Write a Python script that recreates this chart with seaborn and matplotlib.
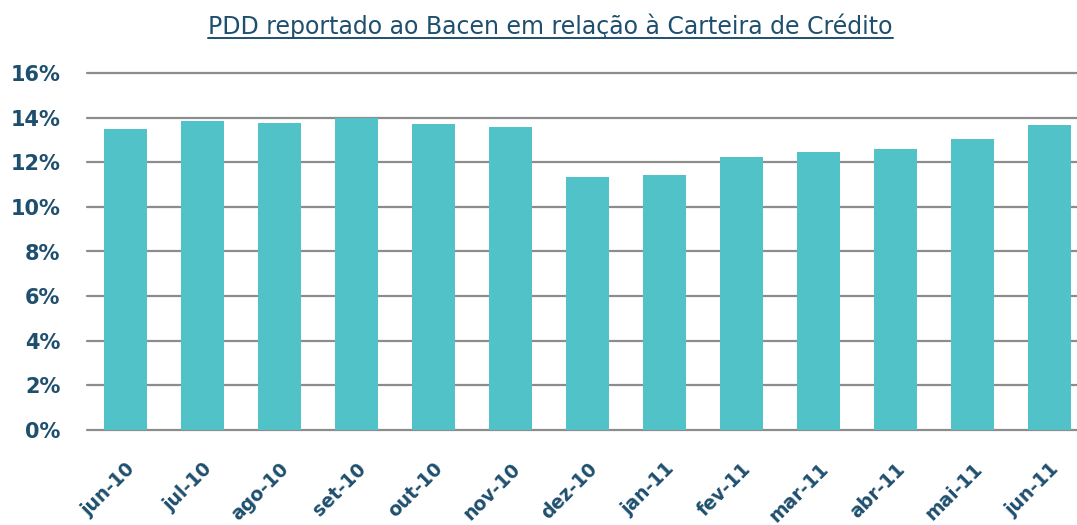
import matplotlib
matplotlib.use("Agg")
import matplotlib.pyplot as plt
from matplotlib.lines import Line2D
from matplotlib.ticker import FuncFormatter, MultipleLocator
import seaborn as sns
import pandas as pd

# data
months = ["jun-10", "jul-10", "ago-10", "set-10", "out-10", "nov-10", "dez-10",
          "jan-11", "fev-11", "mar-11", "abr-11", "mai-11", "jun-11"]
pdd_ratio = [0.1351, 0.1385, 0.1378, 0.1400, 0.1370, 0.1357, 0.1133,
             0.1142, 0.1224, 0.1246, 0.1260, 0.1303, 0.1369]
title = "PDD reportado ao Bacen em relação à Carteira de Crédito"

bar_color = "#50C2C8"
text_color = "#1F4F6E"
grid_color = "#8C8C8C"

sns.set_theme(style="white")
plt.rcParams["font.family"] = ["DejaVu Sans"]

df = pd.DataFrame({"mes": months, "pdd": pdd_ratio})

fig = plt.figure(figsize=(10.77, 5.25), dpi=100)
# axes run past the right edge, the reference is cropped there
ax = fig.add_axes([87 / 1077, 95 / 525, 1001 / 1077, 357 / 525])

sns.barplot(data=df, x="mes", y="pdd", color=bar_color, width=0.56,
            saturation=1, linewidth=0, ax=ax, zorder=3)

ax.set_ylim(0, 0.16)
ax.set_xlim(-0.5, len(months) - 0.5)
ax.yaxis.set_major_locator(MultipleLocator(0.02))
ax.yaxis.set_major_formatter(FuncFormatter(lambda v, _: f"{v * 100:.0f}%"))
ax.grid(axis="y", color=grid_color, linewidth=1.6)
ax.set_axisbelow(True)
for s in ["top", "right", "left", "bottom"]:
    ax.spines[s].set_visible(False)
ax.set_xlabel("")
ax.set_ylabel("")

ax.tick_params(axis="y", length=0, pad=19, labelsize=15, labelcolor=text_color)
ax.tick_params(axis="x", length=0, pad=21, labelsize=13.5, labelcolor=text_color)
for lbl in ax.get_yticklabels():
    lbl.set_fontweight("bold")
for lbl in ax.get_xticklabels():
    lbl.set_fontweight("bold")
    lbl.set_rotation(45)
    lbl.set_ha("right")
    lbl.set_rotation_mode("anchor")

t = fig.text(0.511, 1 - 26 / 525, title, ha="center", va="center",
             fontsize=17, color=text_color)

fig.canvas.draw()
# keep the 0% and 16% grid lines full width
for gl in ax.get_ygridlines():
    gl.set_clip_on(False)

# underline the title
bb = t.get_window_extent().transformed(fig.transFigure.inverted())
fig.add_artist(Line2D([bb.x0, bb.x1], [bb.y0 + 0.001, bb.y0 + 0.001],
                      transform=fig.transFigure, color=text_color, linewidth=1.4))

fig.savefig("out.png", dpi=100)
